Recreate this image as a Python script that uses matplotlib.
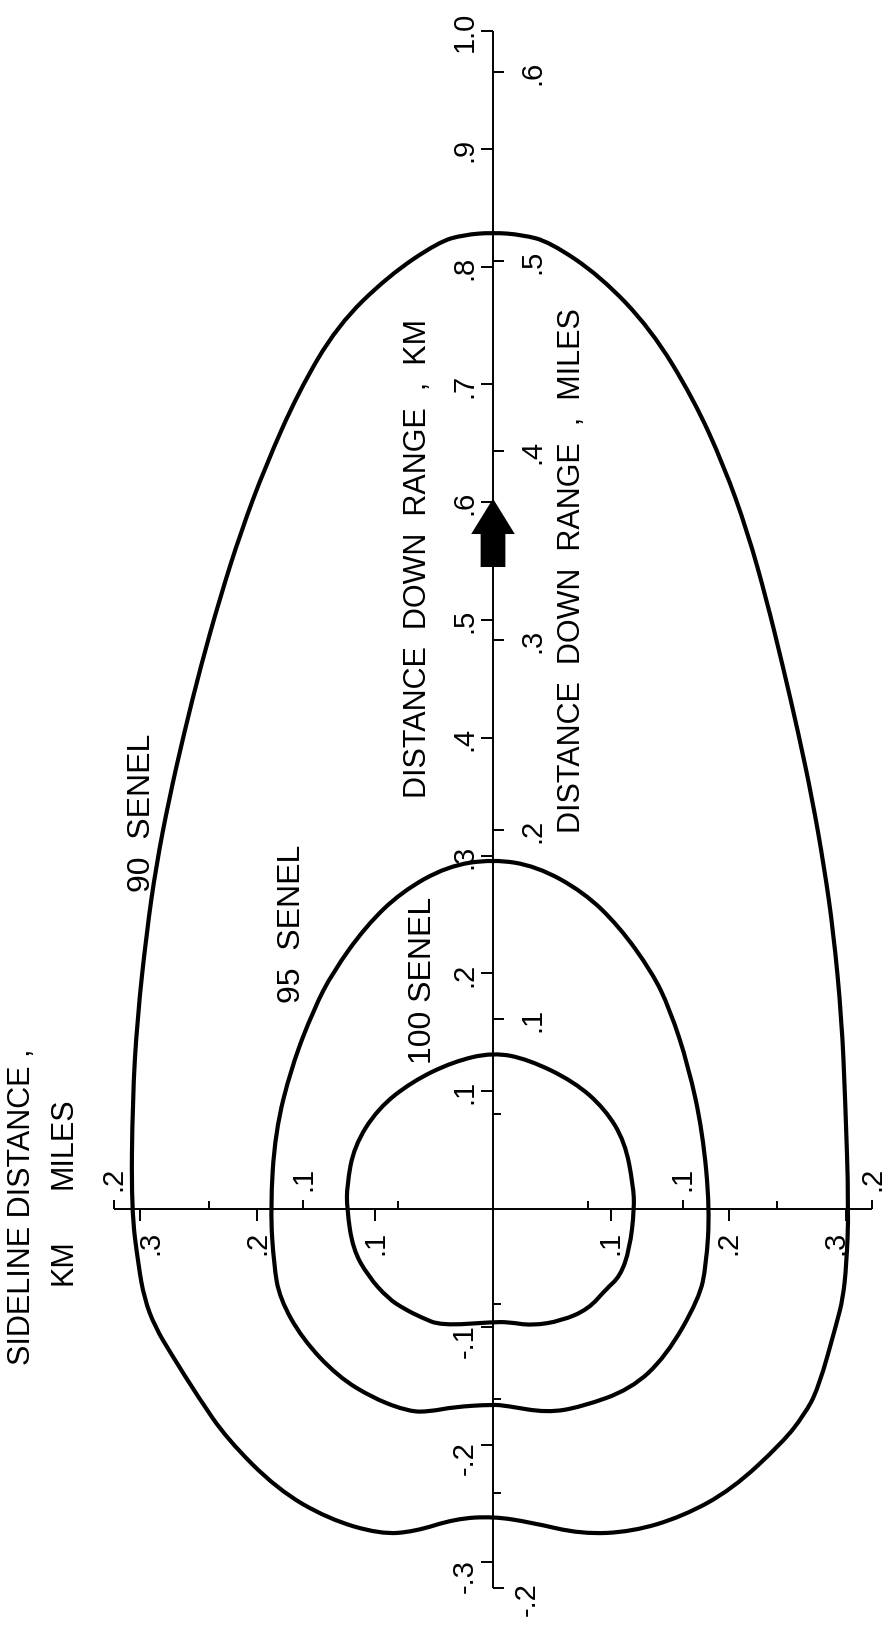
import matplotlib
matplotlib.use('Agg')
import matplotlib.pyplot as plt
import matplotlib.patches as patches
from matplotlib.path import Path

plt.rcParams['font.family'] = ['Liberation Sans', 'DejaVu Sans']

KM_PER_MILE = 1.609344

# contours: sideline distance (km) vs distance down range (km)
x90 = [0.000, 0.025, 0.048, 0.091, 0.134, 0.170, 0.196, 0.216, 0.232, 0.246, 0.259, 0.271,
       0.281, 0.289, 0.296, 0.299, 0.302, 0.300, 0.297, 0.292, 0.276, 0.264, 0.246, 0.203,
       0.161, 0.118, 0.075, 0.032, 0.000, -0.032, -0.067, -0.096, -0.140, -0.183, -0.226,
       -0.250, -0.272, -0.287, -0.296, -0.301, -0.307, -0.306, -0.302, -0.294, -0.286, -0.275,
       -0.262, -0.248, -0.232, -0.214, -0.193, -0.165, -0.132, -0.089, -0.046, -0.025]
y90 = [0.829, 0.827, 0.821, 0.792, 0.747, 0.688, 0.631, 0.575, 0.518, 0.461, 0.405, 0.348,
       0.291, 0.235, 0.161, 0.093, 0.000, -0.048, -0.076, -0.096, -0.153, -0.175, -0.198, -0.238,
       -0.261, -0.274, -0.276, -0.266, -0.261, -0.263, -0.274, -0.276, -0.263, -0.238, -0.195,
       -0.160, -0.125, -0.100, -0.076, -0.048, 0.000, 0.093, 0.161, 0.235, 0.291, 0.348,
       0.405, 0.461, 0.518, 0.575, 0.631, 0.694, 0.750, 0.792, 0.821, 0.827]

x95 = [0.000, 0.037, 0.077, 0.107, 0.135, 0.150, 0.166, 0.178, 0.184, 0.181, 0.175, 0.147,
       0.117, 0.075, 0.046, 0.011, 0.000, -0.033, -0.054, -0.071, -0.101, -0.132, -0.162,
       -0.181, -0.186, -0.189, -0.185, -0.171, -0.152, -0.136, -0.108, -0.078, -0.039]
y95 = [0.297, 0.291, 0.269, 0.240, 0.201, 0.170, 0.121, 0.065, 0.000, -0.048, -0.076, -0.125,
       -0.153, -0.168, -0.173, -0.167, -0.166, -0.168, -0.172, -0.172, -0.161, -0.142, -0.110,
       -0.076, -0.048, 0.000, 0.065, 0.121, 0.170, 0.201, 0.240, 0.269, 0.291]

x100 = [0.000, 0.030, 0.069, 0.095, 0.112, 0.119, 0.120, 0.116, 0.108, 0.096, 0.081, 0.058,
        0.033, 0.013, 0.000, -0.044, -0.061, -0.075, -0.089, -0.106, -0.119, -0.124, -0.124,
        -0.118, -0.098, -0.069, -0.034]
y100 = [0.133, 0.127, 0.108, 0.085, 0.057, 0.020, 0.000, -0.034, -0.057, -0.068, -0.085, -0.095,
        -0.099, -0.096, -0.096, -0.099, -0.092, -0.085, -0.076, -0.057, -0.034, 0.000, 0.020,
        0.053, 0.085, 0.108, 0.125]

# axis ticks
downrange_km = [-0.3, -0.2, -0.1, 0.1, 0.2, 0.3, 0.4, 0.5, 0.6, 0.7, 0.8, 0.9, 1.0]
downrange_km_labels = ['-.3', '-.2', '-.1', '.1', '.2', '.3', '.4', '.5', '.6', '.7', '.8', '.9', '1.0']
downrange_mi = [-0.2, 0.1, 0.2, 0.3, 0.4, 0.5, 0.6]
downrange_mi_labels = ['-.2', '.1', '.2', '.3', '.4', '.5', '.6']
downrange_mi_minor = [-0.15, -0.1, -0.05, 0.05]

sideline_km = [-0.3, -0.2, -0.1, 0.1, 0.2, 0.3]
sideline_km_labels = ['.3', '.2', '.1', '.1', '.2', '.3']
sideline_mi = [-0.2, -0.1, 0.1, 0.2]
sideline_mi_labels = ['.2', '.1', '.1', '.2']
sideline_mi_minor = [-0.15, -0.05, 0.05, 0.15]

# arrow on the axis: start, length (km)
arrow_start = 0.545
arrow_len = 0.058

fig = plt.figure(figsize=(8.92, 16.33), dpi=100)
ax = fig.add_axes([0, 0, 1, 1])
ax.set_xlim(-0.4185, 0.3387)
ax.set_ylim(-0.3591, 1.0272)
ax.axis('off')

LW = 1.4
kw = dict(color='black', lw=LW, solid_capstyle='butt')

def vtext(x, y, s, size=21, **k):
    ax.text(x, y, s, rotation=90, ha='center', va='center', fontsize=size, color='black', **k)

def closed_curve(xs, ys):
    # quadratic bezier through the midpoints, points act as control points
    pts = list(zip(xs, ys))
    n = len(pts)
    mids = [((pts[i][0] + pts[(i + 1) % n][0]) / 2, (pts[i][1] + pts[(i + 1) % n][1]) / 2)
            for i in range(n)]
    verts = [mids[-1]]
    codes = [Path.MOVETO]
    for i in range(n):
        verts += [pts[i], mids[i]]
        codes += [Path.CURVE3, Path.CURVE3]
    return Path(verts, codes)

# down range axis (vertical)
ax.plot([0, 0], [-0.2 * KM_PER_MILE, 1.0], **kw)
for v, lab in zip(downrange_km, downrange_km_labels):
    ax.plot([-0.010, 0], [v, v], **kw)
    off = -0.011 if lab.startswith('-') else 0.0
    vtext(-0.024, v + off, lab)
for v, lab in zip(downrange_mi, downrange_mi_labels):
    ax.plot([0, 0.009], [v * KM_PER_MILE] * 2, **kw)
    off = -0.008 if lab.startswith('-') else 0.0
    xx = 0.029 if lab.startswith('-') else 0.033
    vtext(xx, v * KM_PER_MILE + off, lab)
for v in downrange_mi_minor:
    ax.plot([0, 0.007], [v * KM_PER_MILE] * 2, **kw)

# sideline axis (horizontal)
ax.plot([-0.2 * KM_PER_MILE, 0.2 * KM_PER_MILE], [0, 0], **kw)
for v, lab in zip(sideline_km, sideline_km_labels):
    ax.plot([v, v], [-0.010, 0], **kw)
    off = -0.009 * (v / abs(v)) if abs(v) > 0.25 else 0.0
    vtext(v + off, -0.028, lab)
for v, lab in zip(sideline_mi, sideline_mi_labels):
    ax.plot([v * KM_PER_MILE] * 2, [0, 0.008], **kw)
    vtext(v * KM_PER_MILE, 0.026, lab)
for v in sideline_mi_minor:
    ax.plot([v * KM_PER_MILE] * 2, [0, 0.007], **kw)

# contours
for xs, ys in [(x90, y90), (x95, y95), (x100, y100)]:
    ax.add_patch(patches.PathPatch(closed_curve(xs, ys), facecolor='none', edgecolor='black',
                                   lw=3.0, joinstyle='round'))

ax.arrow(0, arrow_start, 0, arrow_len, width=0.021, head_width=0.037, head_length=0.030,
         length_includes_head=True, fc='black', ec='black', lw=0)

# labels
vtext(-0.298, 0.337, '90  SENEL', size=23)
vtext(-0.171, 0.243, '95  SENEL', size=23)
vtext(-0.059, 0.195, '100 SENEL', size=23)
vtext(-0.064, 0.553, 'DISTANCE  DOWN  RANGE  ,  KM', size=22)
vtext(0.067, 0.543, 'DISTANCE  DOWN  RANGE  ,  MILES', size=22)
ax.text(-0.400, -0.132, 'SIDELINE DISTANCE ,', rotation=90, ha='center', va='bottom', fontsize=22)
vtext(-0.365, -0.044, 'KM', size=22)
vtext(-0.365, 0.057, 'MILES', size=22)

fig.savefig('out.png', dpi=100)
plt.close()
